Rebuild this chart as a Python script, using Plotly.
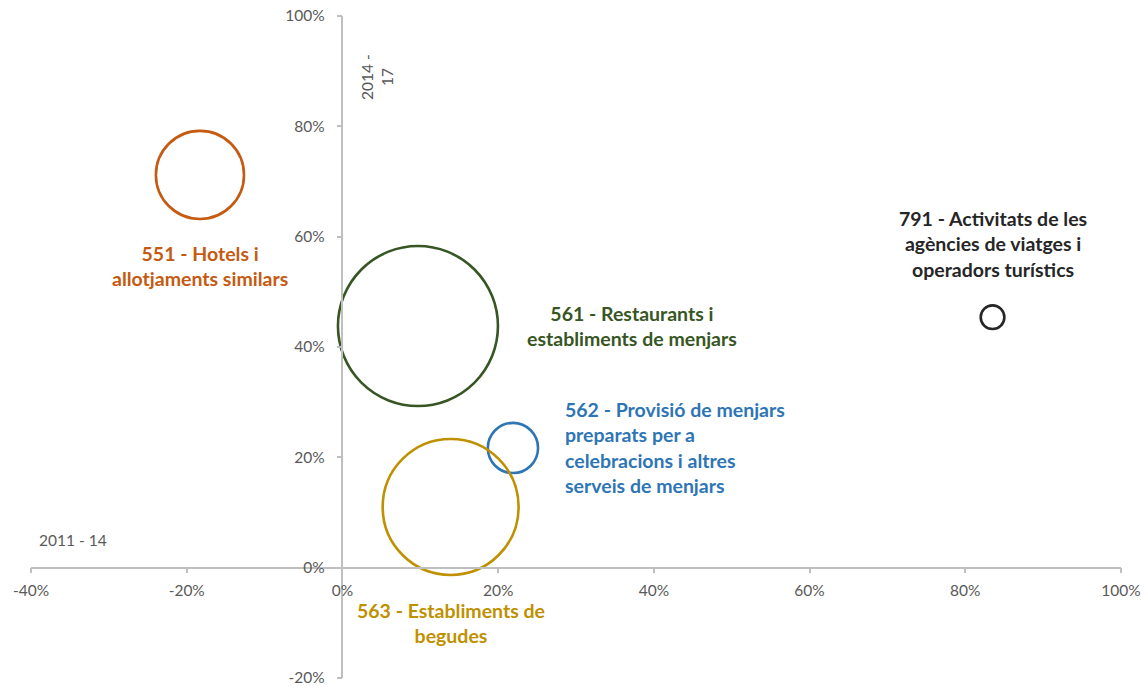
import plotly.graph_objects as go

# --- data ---
codes = ["551", "561", "562", "563", "791"]
names = [
    "551 - Hotels i<br>allotjaments similars",
    "561 - Restaurants i<br>establiments de menjars",
    "562 - Provisió de menjars<br>preparats per a<br>celebracions i altres<br>serveis de menjars",
    "563 - Establiments de<br>begudes",
    "791 - Activitats de les<br>agències de viatges i<br>operadors turístics",
]
growth_2011_14 = [-0.183, 0.097, 0.219, 0.139, 0.835]
growth_2014_17 = [0.712, 0.438, 0.217, 0.110, 0.454]
bubble_size = [19.4, 64.0, 6.3, 46.2, 1.4]
colors = ["#C55A11", "#375623", "#2E75B6", "#BF9000", "#262626"]

x_ticks = [-0.4, -0.2, 0.0, 0.2, 0.4, 0.6, 0.8, 1.0]
x_ticktext = ["-40%", "-20%", "0%", "20%", "40%", "60%", "80%", "100%"]
y_ticks = [-0.2, 0.0, 0.2, 0.4, 0.6, 0.8, 1.0]
y_ticktext = ["-20%", "0%", "20%", "40%", "60%", "80%", "100%"]

# label placement (pixel offsets from bubble centre)
label_style = {
    "551": dict(xshift=0, yshift=-91, xanchor="center", align="center"),
    "561": dict(xshift=214, yshift=0, xanchor="center", align="center"),
    "562": dict(xshift=50, yshift=0, xanchor="left", align="left"),
    "563": dict(xshift=0, yshift=-116, xanchor="center", align="center"),
    "791": dict(xshift=0, yshift=73, xanchor="center", align="center"),
}

fig = go.Figure()
fig.add_trace(go.Scatter(
    x=growth_2011_14, y=growth_2014_17, mode="markers",
    marker=dict(size=bubble_size, sizemode="area", sizeref=0.005,
                color="rgba(0,0,0,0)", opacity=1,
                line=dict(color=colors, width=2.6)),
    hoverinfo="skip", showlegend=False,
))

for c, n, x, y, col in zip(codes, names, growth_2011_14, growth_2014_17, colors):
    st = label_style[c]
    fig.add_annotation(x=x, y=y, xref="x", yref="y", text=n, showarrow=False,
                       font=dict(family="Lato", size=19.5, color=col, weight="bold"),
                       yanchor="middle", **st)

axis_font = dict(family="Lato", size=15.5, color="#595959")
fig.add_annotation(x=0.3174, y=0.9079, xref="paper", yref="paper", text="2014 -<br>17",
                   textangle=-90, showarrow=False, font=axis_font,
                   xanchor="center", yanchor="middle")
fig.add_annotation(x=0.0385, y=0.2085, xref="paper", yref="paper", text="2011 - 14",
                   showarrow=False, font=axis_font, xanchor="center", yanchor="middle")

axis_common = dict(showgrid=False, zeroline=False, showline=True, linecolor="#BFBFBF",
                   linewidth=1.5, ticks="outside", ticklen=5, tickcolor="#BFBFBF",
                   tickwidth=1.5, tickfont=axis_font, automargin=False,
                   ticklabeloverflow="allow")
fig.update_layout(
    width=1148, height=686,
    margin=dict(l=31, r=27, t=16, b=8),
    plot_bgcolor="white", paper_bgcolor="white",
    xaxis=dict(range=[-0.4, 1.0], tickvals=x_ticks, ticktext=x_ticktext, anchor="free",
               position=0.2 / 1.2, ticklabelstandoff=4, **axis_common),
    yaxis=dict(range=[-0.2, 1.0], tickvals=y_ticks, ticktext=y_ticktext, anchor="free",
               position=0.4 / 1.4, ticklabelstandoff=9, **axis_common),
)

fig.write_html("out.html", config={"displayModeBar": False},
               post_script="document.body.style.margin='0';document.body.style.overflow='hidden';")
